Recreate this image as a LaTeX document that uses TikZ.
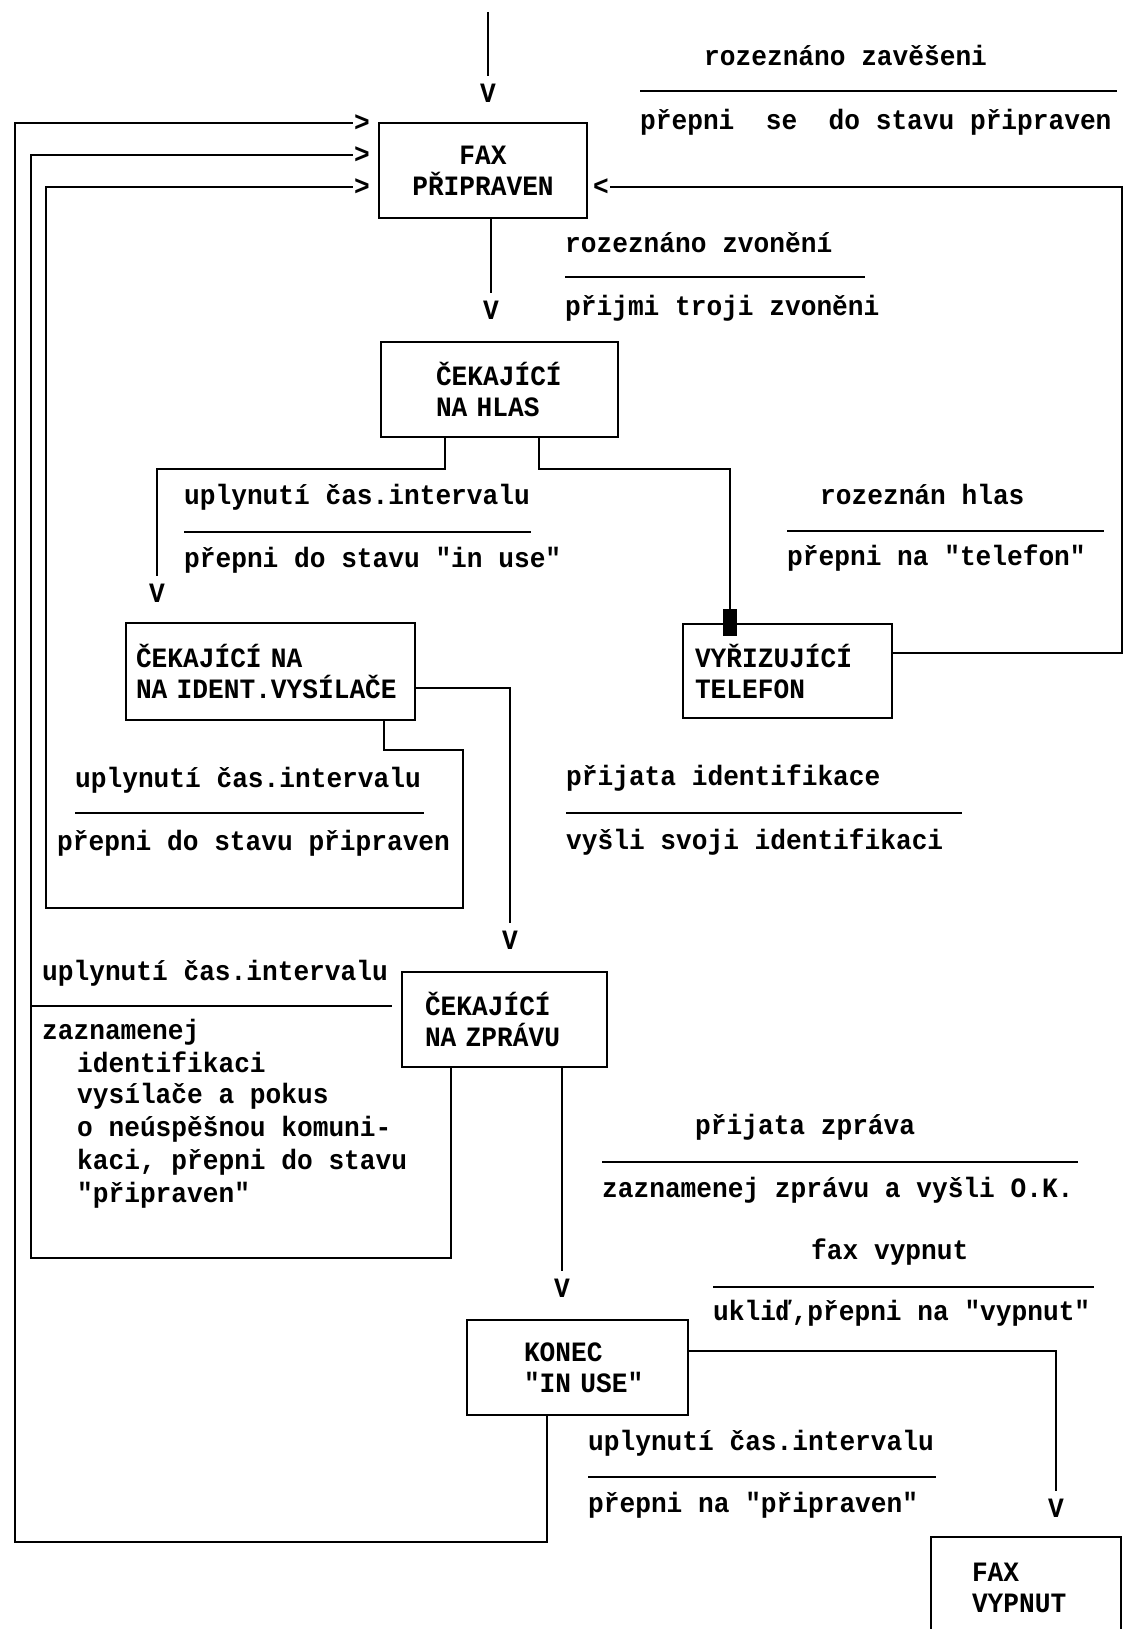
\documentclass[tikz,border=0pt]{standalone}
\usepackage{fontspec}
\newfontfamily\tw{Liberation Mono}[FakeStretch=0.935]
\newcommand{\qq}{\char34\relax}
\begin{document}
\begin{tikzpicture}[x=1pt,y=-1pt,
  txt/.style={font=\tw\bfseries\fontsize{28}{31}\selectfont, inner sep=0pt},
  lbl/.style={txt, anchor=mid west},
  box/.style={txt, draw, line width=2.6pt, rectangle, align=left},
  arrowch/.style={txt, inner sep=8pt},
  tipch/.style={txt, inner sep=1pt},
  conn/.style={line width=2.2pt},
  thinconn/.style={line width=1.6pt},
  sepline/.style={line width=2pt}]
\fill[white] (0,0) rectangle (1125,1629);
\useasboundingbox (0,0) rectangle (1125,1629);

% ---------- boxes ----------
\node[box, align=center, minimum width=208pt, minimum height=95pt] (fp) at (483,170.5) {FAX\\PŘIPRAVEN};
\node[box, minimum width=237pt, minimum height=95pt, text width=127pt] (hl) at (499.5,389.5) {ČEKAJÍCÍ\\NA HLAS};
\node[box, minimum width=289pt, minimum height=97pt, text width=269pt] (id) at (270.5,671.5) {\mbox{ČEKAJÍCÍ NA}\\\mbox{NA IDENT.VYSÍLAČE}};
\node[box, minimum width=209pt, minimum height=94pt, text width=185pt] (vt) at (787.5,671) {VYŘIZUJÍCÍ\\TELEFON};
\node[box, minimum width=205pt, minimum height=95pt, text width=159pt] (zp) at (504.5,1019.5) {ČEKAJÍCÍ\\\mbox{NA ZPRÁVU}};
\node[box, minimum width=221pt, minimum height=95pt, text width=107pt] (ko) at (577.5,1367.5) {KONEC\\\mbox{\qq IN USE\qq}};
\node[box, minimum width=190pt, minimum height=102pt, text width=108pt] (fv) at (1026,1588) {FAX\\VYPNUT};

% ---------- arrow characters ----------
\node[arrowch] (v0) at (488,93) {V};
\node[arrowch] (v1) at (491,310) {V};
\node[arrowch] (v2) at (157,593) {V};
\node[arrowch] (v6) at (510,940) {V};
\node[arrowch] (v9) at (562,1288) {V};
\node[arrowch] (v10) at (1056,1508) {V};
\node[tipch] (g1) at (362,123) {>};
\node[tipch] (g2) at (362,155) {>};
\node[tipch] (g3) at (362,187) {>};
\node[tipch] (lt) at (601,187) {<};

% ---------- connectors ----------
\coordinate (in) at (488,12);
\draw[conn] (in) -- (v0);
\draw[conn] ([xshift=8pt]fp.south) -- (v1);
\draw[conn] ([xshift=-54.5pt]hl.south) -- ++(0,31) -| (v2.north);
\draw[conn] ([xshift=39.5pt]hl.south) -- ++(0,31) -| ([xshift=-57.5pt]vt.north);
\fill ([xshift=-57.5pt]vt.north) ++(-7,-14) rectangle ++(14,27);
\coordinate (rc) at (1122,187);
\draw[conn] ([yshift=18pt]vt.east) -| (rc) -- (lt);
\draw[thinconn] ([yshift=-16.5pt]id.east) -| (v6.north);
\draw[conn] ([xshift=113.5pt]id.south) -- ++(0,29) -- ++(79,0) |- (46,908) |- (g3.west);
\draw[conn] ([xshift=-53.5pt]zp.south) |- (31,1258) |- (g2.west);
\draw[conn] ([xshift=57.5pt]zp.south) -- (v9);
\draw[conn] ([yshift=16.5pt]ko.east) -| (v10.north);
\draw[conn] ([xshift=-30.5pt]ko.south) |- (15,1542) |- (g1.west);

% ---------- transition labels ----------
\node[lbl] (c1) at (704,63) {rozeznáno zavěšeni};
\draw[sepline] (640,91) -- (1117,91);
\node[lbl] (a1) at (640,127) {přepni~~se~~do stavu připraven};

\node[lbl] (c2) at (565,250) {rozeznáno zvonění};
\draw[sepline] (565,277) -- (865,277);
\node[lbl] (a2) at (565,313) {přijmi troji zvoněni};

\node[lbl] (c3) at (184,502) {uplynutí čas.intervalu};
\draw[sepline] (184,532) -- (531,532);
\node[lbl] (a3) at (184,565) {přepni do stavu \qq in use\qq};

\node[lbl] (c4) at (820,502) {rozeznán hlas};
\draw[sepline] (787,531) -- (1104,531);
\node[lbl] (a4) at (787,563) {přepni na \qq telefon\qq};

\node[lbl] (c5) at (75,785) {uplynutí čas.intervalu};
\draw[sepline] (75,813) -- (424,813);
\node[lbl] (a5) at (57,848) {přepni do stavu připraven};

\node[lbl] (c6) at (566,783) {přijata identifikace};
\draw[sepline] (566,813) -- (962,813);
\node[lbl] (a6) at (566,847) {vyšli svoji identifikaci};

\node[lbl] (c7) at (42,978) {uplynutí čas.intervalu};
\draw[sepline] (31,1006) -- (392,1006);
\node[lbl] (z1) at (42,1037) {zaznamenej};
\node[lbl] (z2) at (77,1070) {identifikaci};
\node[lbl] (z3) at (77,1101) {vysílače a pokus};
\node[lbl] (z4) at (77,1134) {o neúspěšnou komuni-};
\node[lbl] (z5) at (77,1167) {kaci, přepni do stavu};
\node[lbl] (z6) at (77,1200) {\qq připraven\qq};

\node[lbl] (c8) at (695,1132) {přijata zpráva};
\draw[sepline] (602,1162) -- (1078,1162);
\node[lbl] (a8) at (602,1195) {zaznamenej zprávu a vyšli O.K.};

\node[lbl] (c9) at (811,1257) {fax vypnut};
\draw[sepline] (713,1287) -- (1094,1287);
\node[lbl] (a9) at (713,1318) {ukliď,přepni na \qq vypnut\qq};

\node[lbl] (c10) at (588,1448) {uplynutí čas.intervalu};
\draw[sepline] (588,1477) -- (936,1477);
\node[lbl] (a10) at (588,1510) {přepni na \qq připraven\qq};
\end{tikzpicture}
\end{document}
